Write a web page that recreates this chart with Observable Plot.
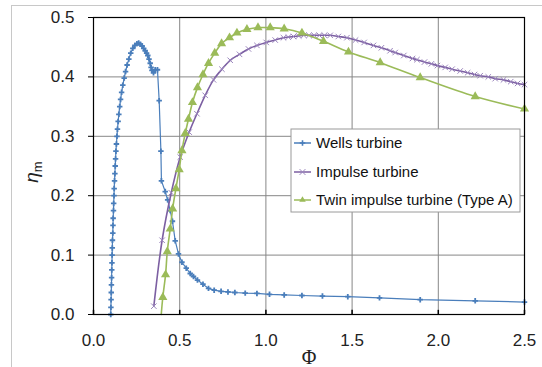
<!DOCTYPE html>
<html>
<head>
<meta charset="utf-8">
<script src="https://cdn.jsdelivr.net/npm/d3@7"></script>
<script src="https://cdn.jsdelivr.net/npm/@observablehq/plot@0.6"></script>
<style>
  html, body { margin: 0; padding: 0; background: #fff; }
  #wrap { position: relative; width: 542px; height: 367px; overflow: hidden; }
  #outer { position: absolute; left: 11px; top: 5px; width: 540px; height: 370px;
           border-left: 1px solid #c8c8c8; border-top: 1px solid #c8c8c8; pointer-events: none; }
</style>
</head>
<body>
<div id="wrap"><div id="outer"></div></div>
<script>
// ---- data ----
const seriesNames = ["Wells turbine", "Impulse turbine", "Twin impulse turbine (Type A)"];

const wellsPhi = [0.100,0.101,0.102,0.103,0.104,0.105,0.106,0.107,0.108,0.109,0.110,0.112,0.113,0.114,0.116,0.117,0.119,0.120,0.122,0.124,0.126,0.128,0.130,0.133,0.136,0.139,0.143,0.147,0.152,0.157,0.163,0.170,0.178,0.186,0.195,0.205,0.216,0.228,0.240,0.252,0.262,0.272,0.282,0.291,0.300,0.308,0.315,0.322,0.329,0.334,0.339,0.348,0.358,0.371,0.381,0.391,0.394,0.416,0.430,0.445,0.458,0.474,0.493,0.513,0.538,0.561,0.580,0.603,0.635,0.667,0.700,0.740,0.780,0.820,0.880,0.948,1.021,1.106,1.209,1.328,1.475,1.659,1.895,2.214,2.500];
const wellsEta = [0.000,0.012,0.025,0.037,0.050,0.062,0.075,0.087,0.100,0.112,0.125,0.137,0.150,0.162,0.175,0.187,0.200,0.212,0.225,0.237,0.250,0.262,0.275,0.287,0.300,0.312,0.325,0.337,0.350,0.362,0.374,0.386,0.398,0.409,0.420,0.430,0.440,0.448,0.453,0.456,0.457,0.455,0.452,0.448,0.444,0.440,0.436,0.430,0.423,0.416,0.411,0.407,0.412,0.412,0.360,0.275,0.225,0.207,0.193,0.175,0.157,0.124,0.102,0.088,0.078,0.069,0.064,0.058,0.051,0.044,0.041,0.039,0.038,0.037,0.036,0.0355,0.034,0.033,0.032,0.031,0.030,0.028,0.025,0.023,0.021];

const impulsePhi = [0.350,0.398,0.451,0.503,0.555,0.600,0.648,0.696,0.745,0.793,0.847,0.899,0.948,1.002,1.054,1.102,1.130,1.160,1.190,1.220,1.250,1.280,1.310,1.340,1.373,1.420,1.470,1.520,1.570,1.624,1.670,1.720,1.750,1.800,1.850,1.876,1.920,1.960,1.995,2.040,2.080,2.127,2.170,2.210,2.243,2.290,2.330,2.378,2.420,2.460,2.500];
const impulseEta = [0.014,0.125,0.205,0.265,0.307,0.338,0.369,0.395,0.413,0.428,0.438,0.447,0.453,0.458,0.462,0.466,0.467,0.468,0.469,0.470,0.470,0.470,0.470,0.470,0.470,0.468,0.466,0.462,0.458,0.453,0.449,0.444,0.441,0.436,0.431,0.429,0.425,0.422,0.419,0.416,0.413,0.410,0.407,0.404,0.402,0.400,0.397,0.395,0.392,0.389,0.387];

const twinPhi = [0.393,0.402,0.418,0.428,0.445,0.459,0.478,0.497,0.513,0.532,0.551,0.574,0.603,0.635,0.667,0.703,0.743,0.789,0.832,0.890,0.954,1.025,1.106,1.209,1.334,1.479,1.663,1.895,2.214,2.500];
const twinEta = [0.000,0.029,0.067,0.106,0.144,0.178,0.212,0.244,0.276,0.305,0.329,0.357,0.382,0.404,0.423,0.440,0.456,0.466,0.474,0.480,0.483,0.483,0.481,0.474,0.460,0.442,0.424,0.399,0.367,0.346];

const xTicks = [0, 0.5, 1.0, 1.5, 2.0, 2.5];
const yTicks = [0, 0.1, 0.2, 0.3, 0.4, 0.5];

// ---- build tables ----
const wells = wellsPhi.map((p, i) => ({phi: p, eta: wellsEta[i]}));
const impulse = impulsePhi.map((p, i) => ({phi: p, eta: impulseEta[i]}));
const twin = twinPhi.map((p, i) => ({phi: p, eta: twinEta[i]}));

const cBlue = "#4a7ebb", cPurple = "#7c5fa2", cPurpleMark = "#9b86bd", cGreen = "#9bbb59";

const fmt = d3.format(".1f");
const chart = Plot.plot({
  width: 542,
  height: 367,
  marginLeft: 93,
  marginRight: 18,
  marginTop: 17,
  marginBottom: 53,
  style: {fontFamily: "'Liberation Sans', Arial, sans-serif", fontSize: "17px", color: "#222", background: "transparent"},
  x: {domain: [0, 2.5]},
  y: {domain: [0, 0.5]},
  marks: [
    Plot.gridX(xTicks, {stroke: "#878787", strokeOpacity: 1}),
    Plot.gridY(yTicks, {stroke: "#878787", strokeOpacity: 1}),
    Plot.axisX(xTicks, {tickSize: 0, tickPadding: 19, tickFormat: fmt, label: null}),
    Plot.axisY(yTicks, {tickSize: 5, tickPadding: 14, tickFormat: fmt, label: null, stroke: "black"}),
    Plot.ruleX(xTicks, {y1: 0, y2: 0.007, stroke: "black", strokeWidth: 1.5}),
    // Wells
    Plot.line(wells, {x: "phi", y: "eta", stroke: cBlue, strokeWidth: 1.2}),
    Plot.dot(wells, {x: "phi", y: "eta", symbol: "plus", r: 1.9, stroke: cBlue, strokeWidth: 1.8}),
    // Impulse
    Plot.line(impulse, {x: "phi", y: "eta", stroke: cPurple, strokeWidth: 1.6, curve: "catmull-rom"}),
    Plot.dot(impulse, {x: "phi", y: "eta", symbol: "times", r: 2.6, stroke: cPurpleMark, strokeWidth: 1}),
    // Twin impulse
    Plot.line(twin, {x: "phi", y: "eta", stroke: cGreen, strokeWidth: 1.6, curve: "catmull-rom"}),
    Plot.dot(twin.filter(d => d.eta > 0), {x: "phi", y: "eta", symbol: "triangle", r: 3.4, fill: cGreen, stroke: "none"}),
    Plot.frame({stroke: "black", strokeWidth: 1.2})
  ]
});

document.getElementById("wrap").prepend(chart);

// ---- labels & legend (real SVG text) ----
const svg = d3.select(chart);
svg.append("text")
  .attr("x", 309).attr("y", 357)
  .attr("text-anchor", "middle").attr("dy", "0.35em")
  .style("font-family", "'Liberation Serif', 'Times New Roman', serif")
  .style("font-size", "20px").attr("fill", "#222")
  .text("Φ");

const yl = svg.append("text")
  .attr("transform", "translate(38,172) rotate(-90)")
  .attr("text-anchor", "middle")
  .style("font-family", "'Liberation Sans', Arial, sans-serif")
  .attr("fill", "#222");
yl.append("tspan").style("font-style", "italic").style("font-size", "19px").text("η");
yl.append("tspan").style("font-size", "13px").attr("dy", "4").text("m");

const lg = svg.append("g").attr("transform", "translate(291,129)");
lg.append("rect").attr("width", 229).attr("height", 83)
  .attr("fill", "white").attr("stroke", "#9a9a9a").attr("stroke-width", 1);
const rowY = [14, 43, 71];
seriesNames.forEach((name, i) => {
  const g = lg.append("g").attr("transform", `translate(0,${rowY[i]})`);
  const col = [cBlue, cPurple, cGreen][i];
  g.append("line").attr("x1", 3).attr("x2", 20).attr("y1", 0).attr("y2", 0)
    .attr("stroke", col).attr("stroke-width", 1.5);
  if (i === 0) {
    g.append("path").attr("transform", "translate(11.5,0)").attr("d", d3.symbol(d3.symbolPlus, 12)())
      .attr("fill", "none").attr("stroke", cBlue).attr("stroke-width", 1.6);
  } else if (i === 1) {
    g.append("path").attr("transform", "translate(11.5,0)").attr("d", d3.symbol(d3.symbolTimes, 24)())
      .attr("fill", "none").attr("stroke", cPurpleMark).attr("stroke-width", 1);
  } else {
    g.append("path").attr("transform", "translate(11.5,0)").attr("d", d3.symbol(d3.symbolTriangle2, 30)())
      .attr("fill", cGreen).attr("stroke", "none");
  }
  g.append("text").attr("x", 25).attr("y", 0).attr("dy", "0.35em")
    .attr("text-anchor", "start")
    .style("font-family", "'Liberation Sans', Arial, sans-serif").style("font-size", "15px")
    .attr("fill", "#111").text(name);
});
</script>
</body>
</html>
